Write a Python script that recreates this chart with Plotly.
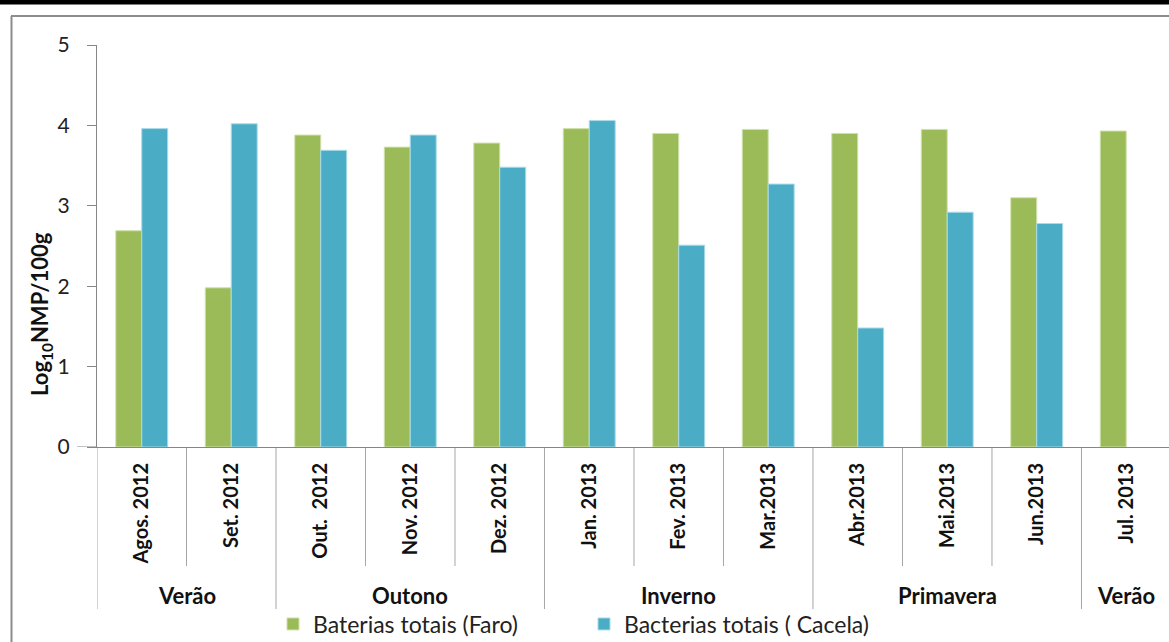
import plotly.graph_objects as go

# Monthly sampling campaigns (Aug 2012 – Jul 2013)
months = ["Agos. 2012", "Set. 2012", "Out.\u00a0 2012", "Nov. 2012", "Dez. 2012",
          "Jan. 2013", "Fev. 2013", "Mar.2013", "Abr.2013", "Mai.2013",
          "Jun.2013", "Jul. 2013"]

# Log10 NMP/100g per site
faro = [2.69, 1.98, 3.88, 3.73, 3.78, 3.96, 3.90, 3.95, 3.90, 3.95, 3.10, 3.93]
cacela = [3.96, 4.02, 3.69, 3.88, 3.48, 4.06, 2.51, 3.27, 1.48, 2.92, 2.78, None]

# Season grouping under the month labels
seasons = ["Verão", "Outono", "Inverno", "Primavera", "Verão"]
season_sizes = [2, 3, 3, 3, 1]

name_faro = "Baterias totais (Faro)"
name_cacela = "Bacterias totais ( Cacela)"

GREEN = "#9BBB59"
BLUE = "#4BACC6"
AXIS = "#868686"
FONT = "Lato"

W, H = 1169, 642
ML, MR, MT, MB = 97, 0, 45, 195
PW, PH = W - ML - MR, H - MT - MB


def px_x(px):
    """Pixel column -> paper x."""
    return (px - ML) / PW


def px_y(py):
    """Pixel row -> paper y."""
    return (H - MB - py) / PH


fig = go.Figure()
fig.add_trace(go.Bar(x=months, y=faro, name=name_faro,
                     marker=dict(color=GREEN, line=dict(color="#cfe0ad", width=1))))
fig.add_trace(go.Bar(x=months, y=cacela, name=name_cacela,
                     marker=dict(color=BLUE, line=dict(color="#a9dbe8", width=1))))

shapes = []
line_style = dict(color="#a6a6a6", width=1)

# Category boundaries: month-level and season-level separators
season_edges = [-0.5]
for n in season_sizes:
    season_edges.append(season_edges[-1] + n)
for i in range(len(months) + 1):
    pos = i - 0.5
    bottom = px_y(609) if pos in season_edges else px_y(566)
    shapes.append(dict(type="line", xref="x", yref="paper", x0=pos, x1=pos,
                       y0=0, y1=bottom, line=line_style, layer="below"))

# Horizontal axis line runs slightly left of the value axis
shapes.append(dict(type="line", xref="paper", yref="y", x0=px_x(77), x1=0,
                   y0=0, y1=0, line=dict(color=AXIS, width=1)))

# Chart frame and the rule across the top
shapes.append(dict(type="rect", xref="paper", yref="paper", x0=px_x(0), x1=px_x(W),
                   y0=px_y(4.5), y1=px_y(0), fillcolor="black", line=dict(width=0)))
shapes.append(dict(type="line", xref="paper", yref="paper", x0=px_x(11), x1=px_x(W),
                   y0=px_y(16), y1=px_y(16), line=dict(color="#8c8c8c", width=2)))
shapes.append(dict(type="line", xref="paper", yref="paper", x0=px_x(11.5), x1=px_x(11.5),
                   y0=px_y(16), y1=px_y(H), line=dict(color="#8c8c8c", width=2)))

annotations = []
start = 0
for name, n in zip(seasons, season_sizes):
    annotations.append(dict(text=f"<b>{name}</b>", xref="x", yref="paper",
                            x=start + (n - 1) / 2, y=px_y(595), showarrow=False,
                            xanchor="center", yanchor="middle",
                            font=dict(family=FONT, size=22, color="#111")))
    start += n

annotations.append(dict(text="<b>Log<sub>10</sub>NMP/100g</b>", xref="paper", yref="paper",
                        x=px_x(41), y=px_y(314), textangle=-90, showarrow=False,
                        xanchor="center", yanchor="middle",
                        font=dict(family=FONT, size=22, color="#111")))

fig.update_layout(
    width=W, height=H,
    margin=dict(l=ML, r=MR, t=MT, b=MB, autoexpand=False),
    paper_bgcolor="white", plot_bgcolor="white",
    barmode="group", bargap=0.42, bargroupgap=0,
    font=dict(family=FONT, size=19, color="#111"),
    showlegend=True,
    legend=dict(orientation="h", x=px_x(273), y=px_y(624), xanchor="left", yanchor="middle",
                entrywidth=266, entrywidthmode="pixels", traceorder="normal",
                font=dict(family=FONT, size=23, color="#222"), bgcolor="rgba(0,0,0,0)"),
    shapes=shapes,
    annotations=annotations,
)

fig.update_xaxes(
    type="category", range=[-0.5, 11.478], tickangle=-90,
    tickprefix="<b>", ticksuffix="</b>",
    ticks="", showline=True, linecolor=AXIS, linewidth=1,
    showgrid=False, zeroline=False, ticklabelstandoff=7,
    tickfont=dict(family=FONT, size=20, color="#111"),
)
fig.update_yaxes(
    range=[0, 5], dtick=1, ticks="outside", ticklen=9, tickcolor=AXIS,
    showline=True, linecolor=AXIS, linewidth=1, showgrid=False, zeroline=False,
    ticklabelstandoff=13, tickfont=dict(family=FONT, size=21, color="#222"),
)

fig.write_html("out.html")
